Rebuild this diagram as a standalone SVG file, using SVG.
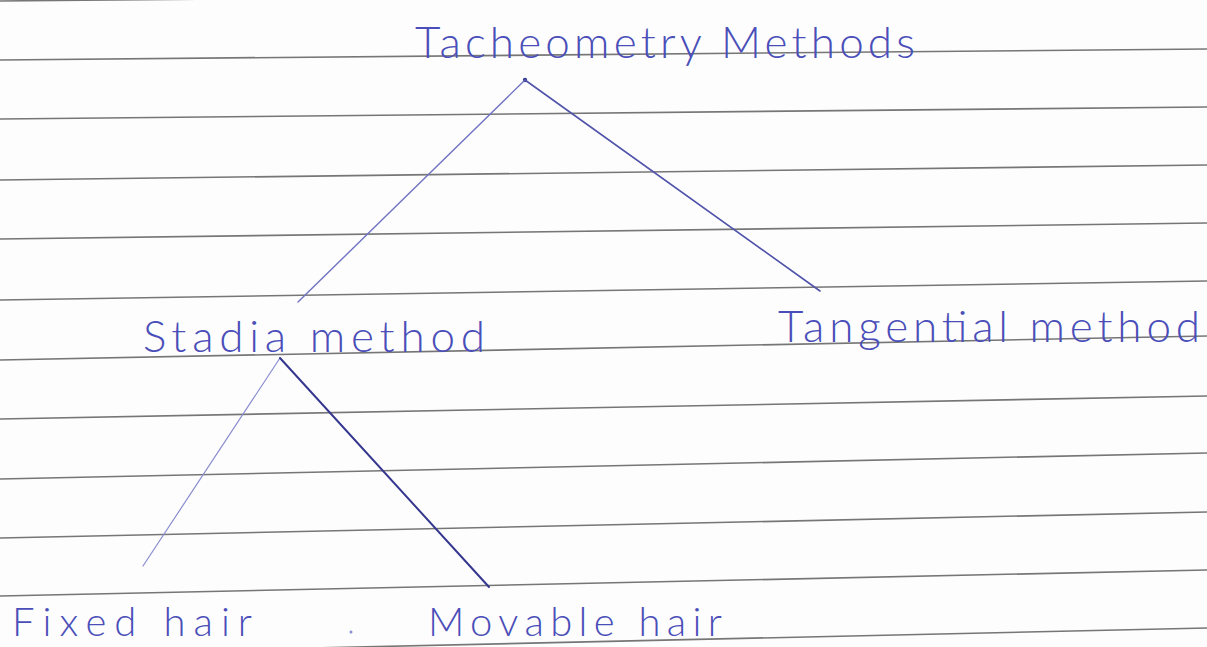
<svg xmlns="http://www.w3.org/2000/svg" width="1207" height="647" viewBox="0 0 1207 647">
<style>
.rule{stroke:#767676;stroke-width:1.6;fill:none}
.ink{font-family:Lato,"Open Sans","Liberation Sans",sans-serif;font-weight:300;fill:#4a4eb8;font-size:44px}
.sm{font-size:40px}
.c{fill:none;stroke-linecap:round}
.c1{stroke:#7073c2;stroke-width:1.4}
.c2{stroke:#5053aa;stroke-width:1.6}
.c3{stroke:#8a8dcf;stroke-width:1.2}
.c4{stroke:#35378f;stroke-width:2}
</style>
<rect width="1207" height="647" fill="#fdfdfd"/>
<g id="paper-lines">
<line class="rule" x1="0" y1="1" x2="1207" y2="-10"/>
<line class="rule" x1="0" y1="60" x2="1207" y2="49"/>
<line class="rule" x1="0" y1="119" x2="1207" y2="107"/>
<line class="rule" x1="0" y1="180" x2="1207" y2="165"/>
<line class="rule" x1="0" y1="239" x2="1207" y2="223"/>
<line class="rule" x1="0" y1="300" x2="1207" y2="281"/>
<line class="rule" x1="0" y1="360" x2="1207" y2="336"/>
<line class="rule" x1="0" y1="419" x2="1207" y2="396"/>
<line class="rule" x1="0" y1="479" x2="1207" y2="453"/>
<line class="rule" x1="0" y1="538" x2="1207" y2="512"/>
<line class="rule" x1="0" y1="596" x2="1207" y2="570"/>
<line class="rule" x1="0" y1="655" x2="1207" y2="628"/>
</g>
<g id="connectors">
<circle cx="525" cy="80" r="2.2" fill="#35378f"/>
<line class="c c1" x1="525" y1="80" x2="298" y2="302"/>
<line class="c c2" x1="525" y1="80" x2="820" y2="291"/>
<line class="c c3" x1="280" y1="358" x2="143" y2="566"/>
<line class="c c4" x1="280" y1="358" x2="489" y2="587"/>
</g>
<g id="node-tacheometry">
<text class="ink" x="415" y="58" textLength="500" lengthAdjust="spacing">Tacheometry Methods</text>
</g>
<g id="node-stadia">
<text class="ink" x="143" y="352" textLength="342" lengthAdjust="spacing">Stadia method</text>
</g>
<g id="node-tangential">
<text class="ink" x="778" y="342" textLength="422" lengthAdjust="spacing">Tangential method</text>
</g>
<g id="node-fixed">
<text class="ink sm" x="12" y="636" textLength="240" lengthAdjust="spacing">Fixed hair</text>
</g>
<g id="node-movable">
<text class="ink sm" x="428" y="636" textLength="294" lengthAdjust="spacing">Movable hair</text>
</g>
<circle cx="351" cy="632" r="1.5" fill="#8a8dcf"/>
</svg>
